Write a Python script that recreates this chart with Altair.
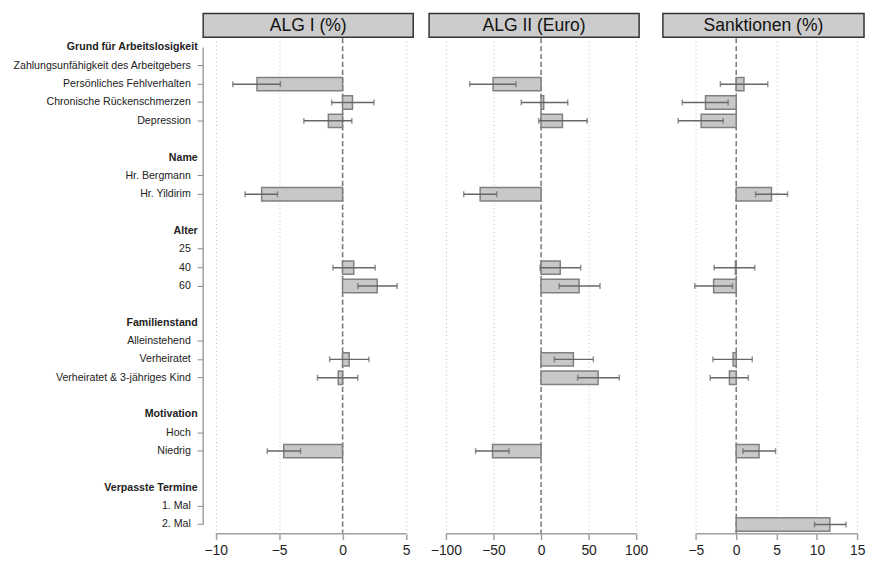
import altair as alt
import pandas as pd

# ---------------- data ----------------
rows = [
    "Grund für Arbeitslosigkeit", "Zahlungsunfähigkeit des Arbeitgebers",
    "Persönliches Fehlverhalten", "Chronische Rückenschmerzen", "Depression", " ",
    "Name", "Hr. Bergmann", "Hr. Yildirim", "  ",
    "Alter", "25", "40", "60", "   ",
    "Familienstand", "Alleinstehend", "Verheiratet", "Verheiratet & 3-jähriges Kind", "    ",
    "Motivation", "Hoch", "Niedrig", "     ",
    "Verpasste Termine", "1. Mal", "2. Mal",
]
headers = ["Grund für Arbeitslosigkeit", "Name", "Alter", "Familienstand",
           "Motivation", "Verpasste Termine"]

terms = ["Persönliches Fehlverhalten", "Chronische Rückenschmerzen", "Depression",
         "Hr. Yildirim", "40", "60", "Verheiratet", "Verheiratet & 3-jähriges Kind",
         "Niedrig", "2. Mal"]

panel_titles = ["ALG I (%)", "ALG II (Euro)", "Sanktionen (%)"]

alg1_est = [-6.75, 0.78, -1.12, -6.38, 0.88, 2.73, 0.52, -0.34, -4.64]
alg1_lo = [-8.65, -0.86, -3.05, -7.69, -0.76, 1.2, -1.02, -1.98, -5.94]
alg1_hi = [-4.9, 2.47, 0.73, -5.13, 2.57, 4.3, 2.08, 1.2, -3.31]

alg2_est = [-50.4, 2.8, 22.5, -64.0, 20.2, 40.0, 34.0, 60.0, -51.0]
alg2_lo = [-75.0, -20.8, -2.5, -81.3, -1.0, 19.0, 14.0, 38.5, -68.8]
alg2_hi = [-26.4, 28.1, 48.5, -46.6, 41.7, 62.0, 55.0, 82.3, -33.7]

sank_est = [0.96, -3.8, -4.34, 4.37, -0.1, -2.8, -0.38, -0.84, 2.83, 11.6]
sank_lo = [-1.96, -6.68, -7.18, 2.41, -2.73, -5.14, -2.88, -3.22, 0.84, 9.7]
sank_hi = [3.91, -1.0, -1.61, 6.36, 2.3, -0.46, 1.99, 1.5, 4.87, 13.6]

alg1_ticks = [-10, -5, 0, 5]
alg2_ticks = [-100, -50, 0, 50, 100]
sank_ticks = [-5, 0, 5, 10, 15]

alg1_domain = [-10.99, 5.57]
alg2_domain = [-117.7, 103.1]
sank_domain = [-9.08, 15.83]

# ---------------- style ----------------
FONT = "Liberation Sans"
H = 500
STEP = H / len(rows)

header_test = " || ".join(f"datum.value === '{h}'" for h in headers)
notick_test = f"({header_test}) || trim(datum.value) === ''"

yaxis = alt.Axis(
    title=None, domain=False, grid=False,
    labelFont=FONT, labelFontSize=10.7, labelColor="#222", labelLimit=400,
    labelFontWeight={"condition": {"test": header_test, "value": "bold"}, "value": "normal"},
    labelPadding={"condition": {"test": header_test, "value": 0}, "value": 7},
    tickSize=6, tickWidth=1, tickColor="#888",
    tickOpacity={"condition": {"test": notick_test, "value": 0}, "value": 1},
)
yscale = alt.Scale(domain=rows, paddingInner=0, paddingOuter=0)


def panel(title, t, est, lo, hi, domain, ticks, width, show_y):
    df = pd.DataFrame({"row": t[:len(est)], "est": est, "lo": lo, "hi": hi})
    base = alt.Chart(df)
    xscale = alt.Scale(domain=domain, nice=False, zero=False)
    xaxis = alt.Axis(
        title=None, values=ticks, domain=False,
        grid=True, gridDash=[1, 3], gridColor="#bdbdbd", gridWidth=1,
        tickSize=6, tickColor="#a0a0a0", tickWidth=1.5,
        labelFont=FONT, labelFontSize=14, labelColor="#222", labelPadding=4,
    )
    y = alt.Y("row:N", scale=yscale, axis=yaxis if show_y else None,
              sort=rows, title=None)

    bars = base.mark_bar(size=13.5, fill="#c8c8c8", stroke="#808080",
                         strokeWidth=1.5).encode(
        x=alt.X("est:Q", scale=xscale, axis=xaxis), x2=alt.datum(0), y=y)
    err = base.mark_rule(color="#666666", strokeWidth=1.5).encode(
        x="lo:Q", x2="hi:Q", y=y)
    cap_lo = base.mark_tick(orient="vertical", size=6, thickness=1.5,
                            color="#666666").encode(x="lo:Q", y=y)
    cap_hi = base.mark_tick(orient="vertical", size=6, thickness=1.5,
                            color="#666666").encode(x="hi:Q", y=y)

    tick_df = pd.DataFrame({"lo": [ticks[0]], "hi": [ticks[-1]]})
    xline = alt.Chart(tick_df).mark_rule(color="#a0a0a0", strokeWidth=1.5).encode(
        x="lo:Q", x2="hi:Q", y=alt.value(H))
    zero = alt.Chart(pd.DataFrame({"z": [0]})).mark_rule(
        color="#777777", strokeWidth=1.5, strokeDash=[5, 3]).encode(x="z:Q")

    tdf = pd.DataFrame({"t": [title]})
    hbox = alt.Chart(tdf).mark_rect(fill="#cccccc", stroke="#333333",
                                    strokeWidth=1.5).encode(
        x=alt.value(0), x2=alt.value(width), y=alt.value(-25), y2=alt.value(-1))
    htext = alt.Chart(tdf).mark_text(font=FONT, fontSize=17.7, color="#111111",
                                     align="center", baseline="middle").encode(
        text="t:N", x=alt.value(width / 2), y=alt.value(-12.5))

    layers = [zero, xline, bars, err, cap_lo, cap_hi, hbox, htext]
    if show_y:
        yline = alt.Chart(tdf).mark_rule(color="#a0a0a0", strokeWidth=1.5).encode(
            x=alt.value(0), y=alt.value(STEP / 2), y2=alt.value(H - STEP / 2))
        layers.insert(0, yline)
    return alt.layer(*layers).properties(width=width, height=H)


p1 = panel(panel_titles[0], terms, alg1_est, alg1_lo, alg1_hi, alg1_domain,
           alg1_ticks, 212, True)
p2 = panel(panel_titles[1], terms, alg2_est, alg2_lo, alg2_hi, alg2_domain,
           alg2_ticks, 212, False)
p3 = panel(panel_titles[2], terms, sank_est, sank_lo, sank_hi, sank_domain,
           sank_ticks, 203, False)

chart = alt.hconcat(p1, p2, p3, spacing=14).properties(
    padding={"left": 4, "top": 2, "right": 0, "bottom": 0},
    background="white",
).configure_view(stroke=None)

chart.save("out.html", embed_options={"renderer": "svg", "actions": False})
